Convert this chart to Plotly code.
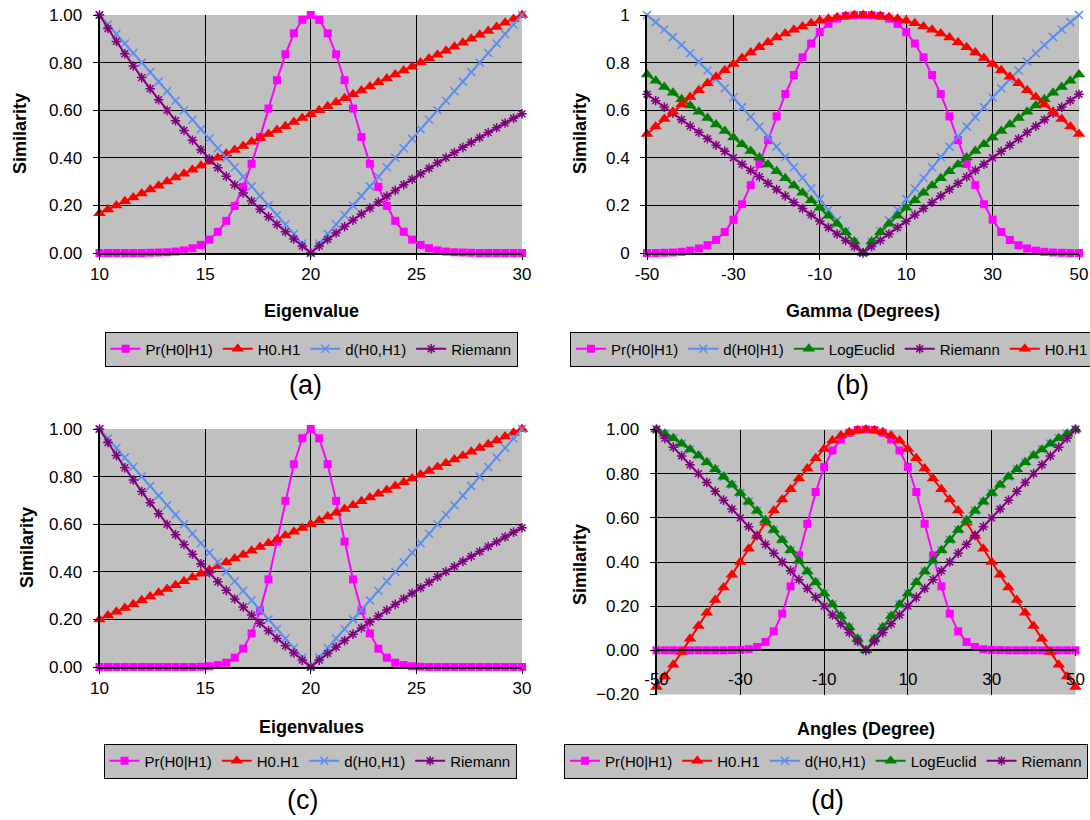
import plotly.graph_objects as go

# ---------------- data ----------------
eig = [10.0,10.4,10.8,11.2,11.6,12.0,12.4,12.8,13.2,13.6,14.0,14.4,14.8,15.2,15.6,16.0,16.4,16.8,17.2,17.6,
       18.0,18.4,18.8,19.2,19.6,20.0,20.4,20.8,21.2,21.6,22.0,22.4,22.8,23.2,23.6,24.0,24.4,24.8,25.2,25.6,
       26.0,26.4,26.8,27.2,27.6,28.0,28.4,28.8,29.2,29.6,30.0]
ang = [-50,-48,-46,-44,-42,-40,-38,-36,-34,-32,-30,-28,-26,-24,-22,-20,-18,-16,-14,-12,-10,-8,-6,-4,-2,
       0,2,4,6,8,10,12,14,16,18,20,22,24,26,28,30,32,34,36,38,40,42,44,46,48,50]
ang_ticks = [-50, -30, -10, 10, 30, 50]
ang_ticktext = ["-50", "-30", "-10", "10", "30", "50"]

# panel (a)
pr_a = [0.000,0.000,0.000,0.000,0.000,0.000,0.001,0.002,0.003,0.006,0.011,0.020,0.034,0.056,0.089,0.135,0.198,0.278,0.375,0.487,
        0.607,0.726,0.835,0.923,0.980,1.000,0.980,0.923,0.835,0.726,0.607,0.487,0.375,0.278,0.198,0.135,0.089,0.056,0.034,0.020,
        0.011,0.006,0.003,0.002,0.001,0.000,0.000,0.000,0.000,0.000,0.000]
h0h1_a = [0.167,0.183,0.200,0.217,0.233,0.250,0.267,0.283,0.300,0.317,0.333,0.350,0.367,0.383,0.400,0.417,0.433,0.450,0.467,0.483,
          0.500,0.517,0.533,0.550,0.567,0.583,0.600,0.617,0.633,0.650,0.667,0.683,0.700,0.717,0.733,0.750,0.767,0.783,0.800,0.817,
          0.833,0.850,0.867,0.883,0.900,0.917,0.933,0.950,0.967,0.983,1.000]
dist_a = [1.00,0.96,0.92,0.88,0.84,0.80,0.76,0.72,0.68,0.64,0.60,0.56,0.52,0.48,0.44,0.40,0.36,0.32,0.28,0.24,
          0.20,0.16,0.12,0.08,0.04,0.00,0.04,0.08,0.12,0.16,0.20,0.24,0.28,0.32,0.36,0.40,0.44,0.48,0.52,0.56,
          0.60,0.64,0.68,0.72,0.76,0.80,0.84,0.88,0.92,0.96,1.00]
riem_a = [1.000,0.943,0.889,0.837,0.786,0.737,0.690,0.644,0.599,0.556,0.515,0.474,0.434,0.396,0.358,0.322,0.286,0.252,0.218,0.184,
          0.152,0.120,0.089,0.059,0.029,0.000,0.029,0.057,0.084,0.111,0.138,0.164,0.189,0.214,0.239,0.263,0.287,0.310,0.333,0.356,
          0.379,0.401,0.422,0.444,0.465,0.485,0.506,0.526,0.546,0.566,0.585]

# panel (b)
pr_b = [0.000,0.000,0.001,0.002,0.005,0.010,0.019,0.033,0.055,0.088,0.140,0.205,0.285,0.374,0.474,0.574,0.668,0.748,0.822,0.880,
        0.928,0.963,0.985,0.996,0.999,1.000,0.999,0.996,0.985,0.963,0.928,0.880,0.822,0.748,0.668,0.574,0.474,0.374,0.285,0.205,
        0.140,0.088,0.055,0.033,0.019,0.010,0.005,0.002,0.001,0.000,0.000]
dist_b = [1.000,0.970,0.939,0.907,0.874,0.839,0.804,0.767,0.730,0.692,0.653,0.613,0.572,0.531,0.489,0.447,0.403,0.360,0.316,0.271,
          0.227,0.182,0.137,0.091,0.046,0.000,0.046,0.091,0.137,0.182,0.227,0.271,0.316,0.360,0.403,0.447,0.489,0.531,0.572,0.613,
          0.653,0.692,0.730,0.767,0.804,0.839,0.874,0.907,0.939,0.970,1.000]
loge_b = [0.750,0.724,0.698,0.673,0.646,0.620,0.593,0.567,0.540,0.513,0.485,0.457,0.429,0.401,0.372,0.343,0.314,0.284,0.253,0.222,
          0.190,0.157,0.123,0.087,0.048,0.000,0.048,0.087,0.123,0.157,0.190,0.222,0.253,0.284,0.314,0.343,0.372,0.401,0.429,0.457,
          0.485,0.513,0.540,0.567,0.593,0.620,0.646,0.673,0.698,0.724,0.750]
riem_b = [0.667,0.640,0.613,0.587,0.560,0.533,0.507,0.480,0.453,0.427,0.400,0.373,0.347,0.320,0.293,0.267,0.240,0.213,0.187,0.160,
          0.133,0.107,0.080,0.053,0.027,0.000,0.027,0.053,0.080,0.107,0.133,0.160,0.187,0.213,0.240,0.267,0.293,0.320,0.347,0.373,
          0.400,0.427,0.453,0.480,0.507,0.533,0.560,0.587,0.613,0.640,0.667]
h0h1_b = [0.500,0.531,0.563,0.594,0.624,0.655,0.684,0.713,0.741,0.768,0.794,0.819,0.842,0.865,0.885,0.905,0.922,0.938,0.952,0.965,
          0.976,0.984,0.991,0.996,0.999,1.000,0.999,0.996,0.991,0.984,0.976,0.965,0.952,0.938,0.922,0.905,0.885,0.865,0.842,0.819,
          0.794,0.768,0.741,0.713,0.684,0.655,0.624,0.594,0.563,0.531,0.500]

# panel (c)
pr_c = [0.000,0.000,0.000,0.000,0.000,0.000,0.000,0.000,0.000,0.000,0.000,0.000,0.001,0.003,0.008,0.018,0.039,0.077,0.141,0.237,
        0.368,0.527,0.698,0.852,0.961,1.000,0.961,0.852,0.698,0.527,0.368,0.237,0.141,0.077,0.039,0.018,0.008,0.003,0.001,0.000,
        0.000,0.000,0.000,0.000,0.000,0.000,0.000,0.000,0.000,0.000,0.000]
h0h1_c = [0.200,0.216,0.232,0.248,0.264,0.280,0.296,0.312,0.328,0.344,0.360,0.376,0.392,0.408,0.424,0.440,0.456,0.472,0.488,0.504,
          0.520,0.536,0.552,0.568,0.584,0.600,0.616,0.632,0.648,0.664,0.680,0.696,0.712,0.728,0.744,0.760,0.776,0.792,0.808,0.824,
          0.840,0.856,0.872,0.888,0.904,0.920,0.936,0.952,0.968,0.984,1.000]
dist_c = [1.00,0.96,0.92,0.88,0.84,0.80,0.76,0.72,0.68,0.64,0.60,0.56,0.52,0.48,0.44,0.40,0.36,0.32,0.28,0.24,
          0.20,0.16,0.12,0.08,0.04,0.00,0.04,0.08,0.12,0.16,0.20,0.24,0.28,0.32,0.36,0.40,0.44,0.48,0.52,0.56,
          0.60,0.64,0.68,0.72,0.76,0.80,0.84,0.88,0.92,0.96,1.00]
riem_c = [1.000,0.943,0.889,0.837,0.786,0.737,0.690,0.644,0.599,0.556,0.515,0.474,0.434,0.396,0.358,0.322,0.286,0.252,0.218,0.184,
          0.152,0.120,0.089,0.059,0.029,0.000,0.029,0.057,0.084,0.111,0.138,0.164,0.189,0.214,0.239,0.263,0.287,0.310,0.333,0.356,
          0.379,0.401,0.422,0.444,0.465,0.485,0.506,0.526,0.546,0.566,0.585]

# panel (d)
pr_d = [0.000,0.000,0.000,0.000,0.000,0.000,0.000,0.000,0.000,0.001,0.002,0.005,0.015,0.038,0.086,0.166,0.290,0.430,0.573,0.717,
        0.830,0.905,0.955,0.985,0.998,1.000,0.998,0.985,0.955,0.905,0.830,0.717,0.573,0.430,0.290,0.166,0.086,0.038,0.015,0.005,
        0.002,0.001,0.000,0.000,0.000,0.000,0.000,0.000,0.000,0.000,0.000]
h0h1_d = [-0.166,-0.118,-0.065,-0.008,0.052,0.110,0.170,0.228,0.285,0.342,0.400,0.460,0.518,0.578,0.633,0.683,0.730,0.778,0.823,0.870,
          0.912,0.950,0.973,0.988,0.997,1.000,0.997,0.988,0.973,0.950,0.912,0.870,0.823,0.778,0.730,0.683,0.633,0.578,0.518,0.460,
          0.400,0.342,0.285,0.228,0.170,0.110,0.052,-0.008,-0.065,-0.118,-0.166]
dist_d = [1.000,0.981,0.960,0.936,0.910,0.882,0.852,0.820,0.786,0.750,0.712,0.673,0.632,0.589,0.545,0.500,0.453,0.406,0.357,0.308,
          0.257,0.207,0.155,0.104,0.052,0.000,0.052,0.104,0.155,0.207,0.257,0.308,0.357,0.406,0.453,0.500,0.545,0.589,0.632,0.673,
          0.712,0.750,0.786,0.820,0.852,0.882,0.910,0.936,0.960,0.981,1.000]
loge_d = [1.000,0.981,0.960,0.936,0.910,0.882,0.852,0.820,0.786,0.750,0.712,0.673,0.632,0.589,0.545,0.500,0.453,0.406,0.357,0.308,
          0.257,0.207,0.155,0.104,0.052,0.000,0.052,0.104,0.155,0.207,0.257,0.308,0.357,0.406,0.453,0.500,0.545,0.589,0.632,0.673,
          0.712,0.750,0.786,0.820,0.852,0.882,0.910,0.936,0.960,0.981,1.000]
riem_d = [1.00,0.96,0.92,0.88,0.84,0.80,0.76,0.72,0.68,0.64,0.60,0.56,0.52,0.48,0.44,0.40,0.36,0.32,0.28,0.24,
          0.20,0.16,0.12,0.08,0.04,0.00,0.04,0.08,0.12,0.16,0.20,0.24,0.28,0.32,0.36,0.40,0.44,0.48,0.52,0.56,
          0.60,0.64,0.68,0.72,0.76,0.80,0.84,0.88,0.92,0.96,1.00]

# ---------------- styling ----------------
W, H = 1090, 820
FONT = "Liberation Sans, Arial, sans-serif"
STY = {
    "pr": dict(color="#FF00FF", symbol="square", size=8, thin=False),
    "h0": dict(color="#FF0000", symbol="triangle-up", size=11, thin=False),
    "d":  dict(color="#5B8DEF", symbol="x-thin", size=8, thin=True),
    "le": dict(color="#008000", symbol="triangle-up", size=11, thin=False),
    "ri": dict(color="#800080", symbol="asterisk", size=8, thin=True),
}

fig = go.Figure()

def add(k, name, x, y, style):
    s = STY[style]
    suffix = "" if k == 1 else str(k)
    marker = dict(symbol=s["symbol"], size=s["size"], color=s["color"])
    marker["line"] = dict(color=s["color"], width=1.5 if s["thin"] else 0)
    fig.add_trace(go.Scatter(
        x=x, y=y, name=name, mode="lines+markers",
        line=dict(color=s["color"], width=2),
        marker=marker, cliponaxis=False,
        xaxis="x" + suffix, yaxis="y" + suffix,
        legend="legend" + suffix, showlegend=True,
    ))

add(1, "Pr(H0|H1)", eig, pr_a, "pr")
add(1, "H0.H1", eig, h0h1_a, "h0")
add(1, "d(H0,H1)", eig, dist_a, "d")
add(1, "Riemann", eig, riem_a, "ri")

add(2, "Pr(H0|H1)", ang, pr_b, "pr")
add(2, "d(H0|H1)", ang, dist_b, "d")
add(2, "LogEuclid", ang, loge_b, "le")
add(2, "Riemann", ang, riem_b, "ri")
add(2, "H0.H1", ang, h0h1_b, "h0")

add(3, "Pr(H0|H1)", eig, pr_c, "pr")
add(3, "H0.H1", eig, h0h1_c, "h0")
add(3, "d(H0,H1)", eig, dist_c, "d")
add(3, "Riemann", eig, riem_c, "ri")

add(4, "Pr(H0|H1)", ang, pr_d, "pr")
add(4, "H0.H1", ang, h0h1_d, "h0")
add(4, "d(H0,H1)", ang, dist_d, "d")
add(4, "LogEuclid", ang, loge_d, "le")
add(4, "Riemann", ang, riem_d, "ri")

def px_x(p): return p / W
def px_y(p): return 1 - p / H

axcommon = dict(showline=True, linecolor="black", linewidth=2, showgrid=True, gridcolor="black",
                gridwidth=1, zeroline=False, ticks="outside", ticklen=5, tickcolor="black", tickwidth=1,
                tickfont=dict(family=FONT, size=17, color="black"))

dom = {
    1: ([99.5, 522], [15, 253]),
    2: ([647, 1079], [15, 253]),
    3: ([99.5, 522], [429, 667]),
    4: ([656.5, 1075.5], [429.5, 694.5]),
}

lay = {}
for k, (xs, ys) in dom.items():
    suffix = "" if k == 1 else str(k)
    xd = [px_x(xs[0]), px_x(xs[1])]
    yd = [px_y(ys[1]), px_y(ys[0])]
    xa = dict(axcommon, domain=xd, anchor="y" + suffix, ticklabelstandoff=0)
    ya = dict(axcommon, domain=yd, anchor="x" + suffix, dtick=0.2, ticklabelstandoff=7)
    if k in (1, 3):
        xa.update(range=[10, 30], tick0=10, dtick=5)
        ya.update(range=[0, 1], tickformat=".2f")
    elif k == 2:
        xa.update(range=[-50, 50], tickvals=ang_ticks, ticktext=ang_ticktext)
        ya.update(range=[0, 1])
    else:
        xa.update(range=[-50, 50], tickvals=ang_ticks, ticktext=ang_ticktext, anchor="free",
                  position=px_y(650.3), ticklabelstandoff=8)
        ya.update(range=[-0.2, 1.0], tickformat=".2f")
    lay["xaxis" + suffix] = xa
    lay["yaxis" + suffix] = ya

legpos = {1: (311, 349), 2: (832, 349), 3: (310, 761), 4: (826, 761)}
for k, (cx, cy) in legpos.items():
    suffix = "" if k == 1 else str(k)
    lay["legend" + suffix] = dict(orientation="h", x=px_x(cx), y=px_y(cy), xanchor="center",
                                  yanchor="middle", bgcolor="#C0C0C0", bordercolor="black",
                                  borderwidth=1, itemwidth=30, traceorder="normal",
                                  font=dict(family=FONT, size=15, color="black"))

ann = []
def text(x, y, t, size=18, bold=False, angle=0):
    ann.append(dict(x=px_x(x), y=px_y(y), xref="paper", yref="paper", showarrow=False,
                    text=("<b>%s</b>" % t) if bold else t, textangle=angle,
                    font=dict(family=FONT, size=size, color="black"),
                    xanchor="center", yanchor="middle"))

text(20, 134, "Similarity", bold=True, angle=-90)
text(580, 134, "Similarity", bold=True, angle=-90)
text(27, 548, "Similarity", bold=True, angle=-90)
text(580, 565, "Similarity", bold=True, angle=-90)
text(311, 311, "Eigenvalue", bold=True)
text(863, 311, "Gamma (Degrees)", bold=True)
text(311, 727, "Eigenvalues", bold=True)
text(866, 729, "Angles (Degree)", bold=True)
text(305, 385, "(a)", size=27)
text(852, 385, "(b)", size=27)
text(302, 800, "(c)", size=27)
text(827, 800, "(d)", size=27)

fig.update_layout(width=W, height=H, margin=dict(l=0, r=0, t=0, b=0, autoexpand=False),
                  paper_bgcolor="white", plot_bgcolor="#C0C0C0", annotations=ann,
                  font=dict(family=FONT, color="black"), **lay)

fig.write_html("out.html", config={"displayModeBar": False},
               post_script="document.body.style.margin='0';document.body.style.overflow='hidden';")
